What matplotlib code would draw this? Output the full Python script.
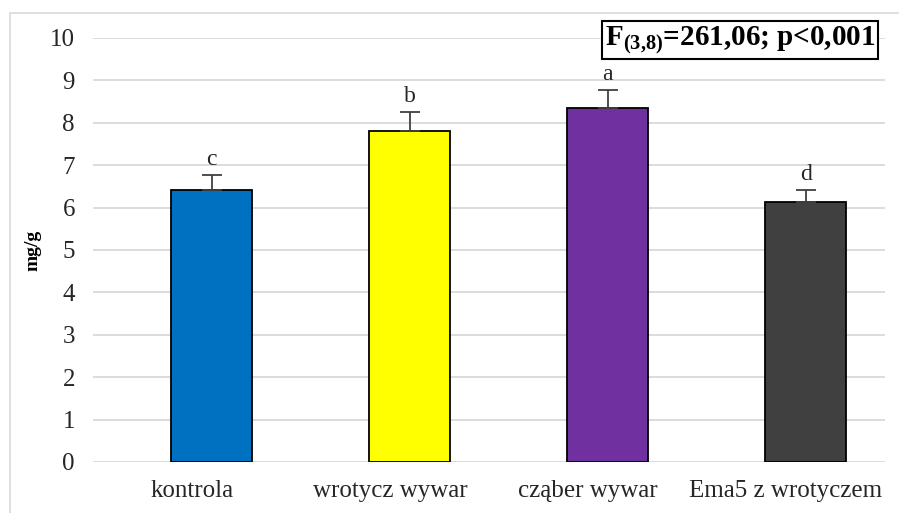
import matplotlib.pyplot as plt
from matplotlib.patches import Rectangle

categories = ['kontrola', 'wrotycz wywar', 'cząber wywar', 'Ema5 z wrotyczem']
values = [6.42, 7.81, 8.35, 6.13]
errors = [0.35, 0.44, 0.42, 0.29]
letters = ['c', 'b', 'a', 'd']
colors = ['#0070C0', '#FFFF00', '#7030A0', '#404040']

plt.rcParams['font.family'] = ['Liberation Serif', 'DejaVu Serif']
plt.rcParams['mathtext.fontset'] = 'custom'
plt.rcParams['mathtext.rm'] = 'Liberation Serif'
plt.rcParams['mathtext.bf'] = 'Liberation Serif:bold'

fig = plt.figure(figsize=(8.99, 5.13), dpi=100)
W, H = 899, 513

# light outer chart border (clipped on right and bottom like the reference)
fig.patches.append(Rectangle((10 / W, -0.05), 1.05, (H - 13) / H + 0.05,
                             transform=fig.transFigure, fill=False,
                             edgecolor='#d9d9d9', lw=1.2))

ax = fig.add_axes([93 / W, (H - 462) / H, (885 - 93) / W, (462 - 38) / H])

x = list(range(len(categories)))
xb = [i + 0.1 for i in x]
ax.bar(xb, values, width=0.41, color=colors, edgecolor='black', linewidth=1.3, zorder=3)
ax.errorbar(xb, values, yerr=[[0] * len(errors), errors], fmt='none',
            ecolor='#404040', elinewidth=1.3, capsize=7, capthick=1.3, zorder=4)

for xi, v, e, t in zip(xb, values, errors, letters):
    ax.text(xi, v + e + 0.12, t, ha='center', va='bottom', fontsize=17, color='#262626')

ax.set_ylim(0, 10)
ax.set_xlim(-0.5, 3.5)
ax.set_yticks(range(0, 11))
ax.set_xticks(x)
ax.set_xticklabels(categories)
ax.tick_params(axis='both', length=0, labelsize=18, colors='#262626')
ax.tick_params(axis='y', pad=13)
ax.tick_params(axis='x', pad=13)
ax.grid(axis='y', color='#d9d9d9', lw=1.3, zorder=0)
for s in ax.spines.values():
    s.set_visible(False)

ax.set_ylabel('mg/g', fontsize=14, fontweight='bold', labelpad=6)

fig.text(740 / W, 1 - 40 / H, r'F$_{\mathbf{(3{,}8)}}$=261,06; p<0,001', ha='center', va='center',
         fontsize=21, fontweight='bold',
         bbox=dict(boxstyle='square,pad=0.1', facecolor='white', edgecolor='black', lw=1.5))

fig.savefig('out.png', dpi=100)
